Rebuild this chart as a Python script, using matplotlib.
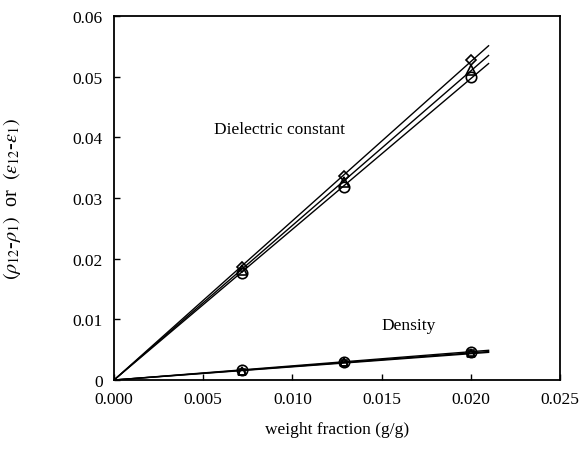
import numpy as np
import matplotlib.pyplot as plt

plt.rcParams['font.family'] = ['Liberation Serif', 'DejaVu Serif']
plt.rcParams['mathtext.fontset'] = 'stix'

# weight fractions (g/g)
w = [0.0072, 0.0129, 0.0200]

# dielectric constant increments (eps12 - eps1)
eps_a = [0.0187, 0.0336, 0.0527]
eps_b = [0.0182, 0.0327, 0.0511]
eps_c = [0.0177, 0.0318, 0.0499]

# density increments (rho12 - rho1)
rho_a = [0.0016, 0.0030, 0.0047]
rho_b = [0.0015, 0.0029, 0.0045]
rho_c = [0.0014, 0.0028, 0.0044]

fig = plt.figure(figsize=(5.86, 4.6), dpi=100)
ax = fig.add_axes([0.1945, 0.1717, 0.761, 0.7913])

xfit = np.array([0.0, 0.021])
for ys, m, ms in [(eps_a, 'D', 5.5), (eps_b, '^', 6.5), (eps_c, 'o', 7.5),
                  (rho_a, 'o', 7.5), (rho_b, '^', 6), (rho_c, 's', 5)]:
    x = np.array(w)
    y = np.array(ys)
    slope = np.sum(x * y) / np.sum(x * x)   # line through origin
    ax.plot(xfit, slope * xfit, color='black', lw=1.0)
    ax.plot(w, ys, linestyle='none', marker=m, mfc='none', mec='black',
            ms=ms, mew=1.2)

ax.set_xlim(0, 0.025)
ax.set_ylim(0, 0.06)
ax.set_xticks(np.arange(0, 0.0251, 0.005))
ax.set_xticklabels(['0.000', '0.005', '0.010', '0.015', '0.020', '0.025'])
ax.set_yticks(np.arange(0, 0.061, 0.01))
ax.set_yticklabels(['0', '0.01', '0.02', '0.03', '0.04', '0.05', '0.06'])
ax.tick_params(direction='in', labelsize=12.5, length=4, width=1, pad=8)
for s in ax.spines.values():
    s.set_linewidth(1.3)

ax.text(0.0093, 0.0414, 'Dielectric constant', fontsize=12.5, ha='center', va='center')
ax.text(0.0165, 0.0090, 'Density', fontsize=12.5, ha='center', va='center')

ax.set_xlabel('weight fraction (g/g)', fontsize=12.5, labelpad=10)
ax.set_ylabel(r'$(\rho_{12}$-$\rho_1)$  or  $(\varepsilon_{12}$-$\varepsilon_1)$',
              fontsize=14.5)
ax.yaxis.set_label_coords(-0.205, 0.5)

fig.savefig('out.png', dpi=100)
